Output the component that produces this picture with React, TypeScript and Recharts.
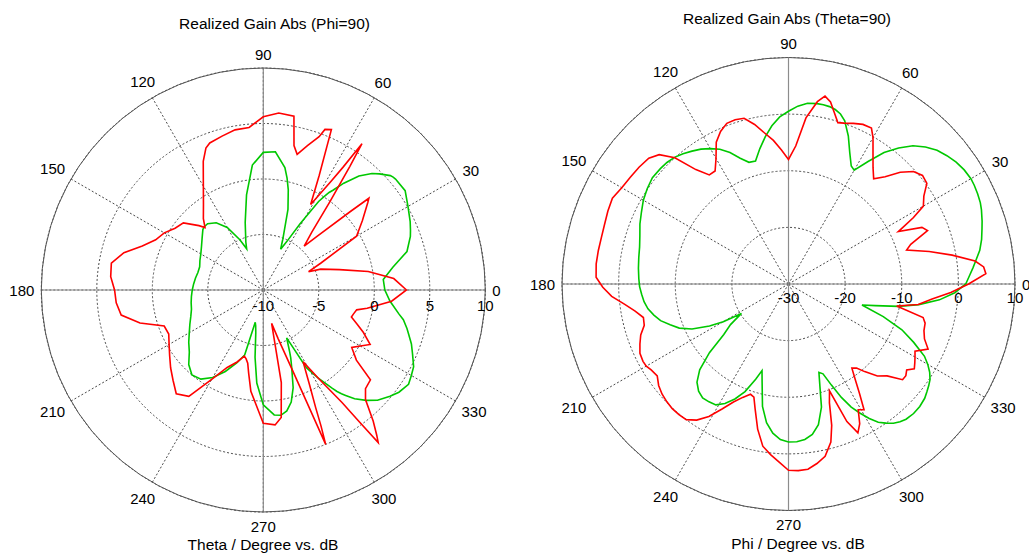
import React from 'react';
import { RadarChart, Radar, PolarGrid, PolarAngleAxis, PolarRadiusAxis } from 'recharts';

const FONT = '"Liberation Sans", Arial, sans-serif';

const angleTicks = [0, 30, 60, 90, 120, 150, 180, 210, 240, 270, 300, 330];
const leftRadiusTicks = [-10, -5, 0, 5, 10];
const rightRadiusTicks = [-30, -20, -10, 0, 10];

// Left chart: Realized Gain Abs (Phi=90), Theta in degrees vs dB
const leftAngles = [0, 5, 10, 15, 20, 22, 25, 30, 35, 40, 41, 42, 45, 47, 50, 53, 55, 56, 57, 58, 61, 64, 67, 69, 70, 73, 76, 78, 80, 85, 90, 95, 100, 105, 110, 112, 115, 120, 125, 130, 133, 135, 140, 145, 150, 155, 160, 165, 170, 175, 180, 185, 190, 195, 200, 205, 210, 215, 220, 225, 230, 235, 240, 245, 250, 254, 256, 258, 260, 263, 266, 270, 275, 278, 281, 284, 287, 290, 292, 293, 294, 296, 299, 302, 305, 306, 307, 308, 310, 313, 316, 320, 323, 327, 330, 333, 337, 340, 343, 345, 348, 350, 355];
const leftRed = [2.9, 1.8, -0.4, -2.9, -4.5, -5.6, -4.3, -0.3, 0.9, 2.3, 2.6, 0.6, -3.2, -4.6, -3.2, 0.0, 3.6, 5.9, 3.2, 1.6, -1.2, 1.5, 5.7, 5.5, 4.7, 3.6, 2.6, 3.3, 5.9, 6.0, 5.6, 4.7, 4.65, 4.35, 4.1, 3.8, 2.8, 0.8, -0.6, -1.6, -2.3, -1.8, -0.6, -0.3, 0.3, 0.7, 1.6, 3.0, 3.9, 3.8, 3.4, 3.3, 3.0, 1.5, -0.5, -0.6, -0.2, 0.3, 0.9, 1.5, 2.2, 1.7, -0.7, -2.3, -3.1, -3.8, -3.6, -3.25, -2.4, -0.8, 0.2, 2.0, 2.2, 1.6, -1.5, -6.9, -5.4, -2.3, 5.0, 3.3, 1.6, -0.5, -2.6, -0.6, 2.4, 4.5, 7.2, 6.6, 5.4, 3.5, 2.8, 2.6, 0.5, -0.5, 0.1, 0.8, -0.2, -1.0, -1.7, -1.6, -1.4, -0.5, 1.6];
const leftGreen = [0.95, 0.85, 1.85, 3.4, 4.1, 4.3, 4.6, 5.05, 5.6, 5.55, 5.5, 5.4, 4.8, 4.35, 3.4, 2.05, 1.0, 0.6, 0.0, -0.6, -3.2, -5.1, -6.0, -5.1, -4.6, -2.4, -0.7, 0.3, 1.2, 2.5, 2.4, 1.3, -1.3, -3.7, -5.4, -6.0, -5.0, -3.5, -2.6, -2.2, -2.2, -2.3, -2.8, -3.2, -3.5, -3.7, -3.9, -3.9, -3.8, -3.7, -3.6, -3.5, -3.4, -3.3, -3.05, -2.7, -2.3, -1.8, -1.3, -0.5, 0.0, -0.2, -0.9, -1.9, -3.0, -3.9, -7.0, -6.7, -6.1, -3.9, -1.6, 0.35, 1.3, 1.4, 1.1, 0.4, -0.8, -2.5, -3.4, -3.9, -4.4, -5.2, -2.0, -0.6, 0.8, 1.3, 1.7, 2.05, 2.8, 3.6, 4.3, 4.9, 5.3, 5.6, 5.4, 5.2, 4.6, 4.2, 3.7, 3.4, 2.9, 2.4, 1.45];

// Right chart: Realized Gain Abs (Theta=90), Phi in degrees vs dB
const rightAngles = [0, 3, 5, 7, 10, 13, 16, 18, 21, 23, 25.5, 28, 30, 33, 36, 39, 42, 45, 48, 51, 54, 57, 60, 62, 65, 68, 71, 73, 75, 77, 79, 81, 84, 87, 90, 93, 96, 99, 102, 105, 108, 111, 114, 117, 120, 123, 126, 129, 132, 135, 138, 142, 146, 150, 154, 158, 162, 166, 170, 174, 178, 181, 184, 187, 190, 193, 196, 199, 202, 205, 208, 210, 212, 215, 218, 221, 224, 227, 230, 233, 236, 239, 242, 245, 248, 251, 253, 255, 258, 261, 264, 267, 270, 273, 276, 279, 282, 285, 287, 289, 291, 293, 295, 297, 299, 301, 303, 305, 307, 309, 311, 314, 317, 320, 322, 324, 326, 328, 330, 332, 335, 338, 341, 344, 346, 348.5, 351, 354, 357];
const rightRed = [1.8, 4.9, 4.6, 3.2, -0.65, -4.5, -8.3, -7.3, -3.7, -4.4, -8.5, -5.0, -2.5, -1.5, 0.2, 0.45, -0.3, -2.1, -4.5, -6.1, -4.6, -2.6, -0.15, 1.2, 1.1, 0.6, 0.05, -0.2, 1.3, 3.0, 3.8, 2.6, -0.5, -5.6, -8.0, -6.3, -4.5, -3.0, -1.2, 0.3, 0.5, 0.4, -0.5, -1.9, -4.4, -6.2, -6.2, -4.0, 0.0, 2.3, 3.2, 3.5, 3.7, 4.0, 4.6, 4.4, 4.15, 4.05, 4.1, 4.15, 4.0, 2.8, 1.3, -0.8, -2.5, -3.7, -3.5, -2.4, -1.7, -1.05, -0.9, -1.0, -1.4, -1.7, -0.9, -0.4, -0.1, 0.1, 0.1, 0.0, -1.0, -2.7, -5.0, -7.0, -8.4, -9.4, -9.1, -7.2, -3.8, -1.0, 0.3, 1.5, 2.9, 3.0, 2.9, 2.1, 1.1, -1.1, -3.9, -7.8, -9.8, -3.6, -1.0, -2.3, -4.6, -4.1, -7.0, -9.5, -11.4, -10.9, -9.5, -7.4, -6.2, -3.7, -3.7, -4.2, -3.2, -3.7, -4.2, -4.7, -2.8, -4.1, -4.7, -4.9, -5.5, -10.5, -6.8, -4.5, -1.3];
const rightGreen = [1.3, 2.1, 2.7, 3.3, 4.3, 5.0, 5.55, 5.95, 6.5, 6.8, 7.0, 7.15, 7.2, 7.0, 6.6, 6.0, 5.3, 4.2, 2.85, 0.9, -1.3, -4.2, -6.8, -6.4, -4.4, -1.8, 0.5, 1.4, 1.9, 2.15, 2.25, 2.25, 2.1, 1.45, 0.5, -0.45, -1.9, -3.7, -5.6, -7.5, -7.4, -6.2, -4.6, -3.3, -2.4, -1.6, -1.0, -0.4, 0.1, 0.35, 0.45, 0.5, 0.1, -0.4, -1.1, -1.7, -2.4, -2.9, -3.15, -3.35, -3.55, -3.7, -4.0, -4.3, -4.8, -5.6, -6.5, -7.9, -9.2, -11.2, -14.2, -16.7, -20.2, -17.5, -15.5, -11.5, -8.2, -6.3, -5.3, -4.8, -4.9, -5.1, -6.1, -7.6, -9.5, -12.2, -14.0, -12.0, -7.9, -5.2, -3.5, -2.5, -2.1, -2.1, -2.4, -3.1, -4.6, -7.5, -11.0, -13.5, -13.0, -10.6, -7.9, -5.6, -3.9, -2.3, -0.9, 0.0, 0.8, 1.3, 1.65, 1.8, 1.7, 1.4, 1.0, 0.6, 0.15, -0.6, -1.6, -2.8, -5.6, -8.4, -12.3, -16.5, -14.2, -10.2, -6.7, -3.2, -0.6];

const leftData = leftAngles.map((a, i) => ({ angle: a, red: leftRed[i], green: leftGreen[i] }));
const rightData = rightAngles.map((a, i) => ({ angle: a, red: rightRed[i], green: rightGreen[i] }));

const AngleTick = (props: any) => {
  const { x, y, payload } = props;
  const deg = Number(payload.value);
  const a = (deg * Math.PI) / 180;
  const label = String(payload.value);
  const w = label.length * 8.3;
  const extra = Math.abs(Math.cos(a)) * (w / 2) + Math.abs(Math.sin(a)) * 7;
  const tx = x + Math.cos(a) * extra;
  const ty = y - Math.sin(a) * extra;
  return (
    <text x={tx} y={ty} textAnchor="middle" dominantBaseline="central" fontSize={15} fontFamily={FONT} fill="#000">
      {label}
    </text>
  );
};

const makeRadiusTick = (dy: number) => (props: any) => {
  const { x, y, payload } = props;
  return (
    <text x={x} y={y + dy} textAnchor="middle" dominantBaseline="central" fontSize={15} fontFamily={FONT} fill="#000">
      {String(payload.value)}
    </text>
  );
};

const Label = ({ text, cx, cy, size }: { text: string; cx: number; cy: number; size: number }) => (
  <div
    style={{
      position: 'absolute',
      left: cx - 200,
      top: cy - 9,
      width: 400,
      height: 18,
      lineHeight: '18px',
      textAlign: 'center',
      fontFamily: FONT,
      fontSize: size,
      color: '#000',
      whiteSpace: 'nowrap',
    }}
  >
    {text}
  </div>
);

function PolarPlot({ data, width, cx, cy, radius, domain, radiusTicks, tickDy }: any) {
  return (
    <RadarChart
      width={width}
      height={555}
      data={data}
      cx={cx}
      cy={cy}
      innerRadius={0}
      outerRadius={radius}
      startAngle={0}
      endAngle={360}
      margin={{ top: 0, right: 0, bottom: 0, left: 0 }}
    >
      <PolarGrid gridType="circle" stroke="#4a4a4a" strokeDasharray="2 2" strokeWidth={1} />
      <PolarGrid gridType="circle" polarAngles={[0, 90, 180, 270]} polarRadius={[]} stroke="#8c8c8c" strokeWidth={1.2} />
      <PolarAngleAxis
        dataKey="angle"
        type="number"
        domain={[0, 360]}
        ticks={angleTicks}
        tick={AngleTick}
        tickLine={false}
        tickSize={7}
        axisLine={{ stroke: '#555', strokeWidth: 1 }}
        axisLineType="circle"
        allowDataOverflow
      />
      <PolarRadiusAxis
        angle={0}
        type="number"
        domain={domain}
        ticks={radiusTicks}
        tickCount={5}
        tick={makeRadiusTick(tickDy)}
        axisLine={false}
        tickLine={false}
        allowDataOverflow
      />
      <Radar dataKey="green" stroke="#00c800" strokeWidth={1.6} fill="none" fillOpacity={0} dot={false} isAnimationActive={false} />
      <Radar dataKey="red" stroke="#ff0000" strokeWidth={1.6} fill="none" fillOpacity={0} dot={false} isAnimationActive={false} />
    </RadarChart>
  );
}

export default function App() {
  return (
    <div style={{ position: 'absolute', left: 0, top: 0, width: 1029, height: 555, background: '#fff', overflow: 'hidden' }}>
      <div style={{ position: 'absolute', left: 0, top: 0 }}>
        <PolarPlot data={leftData} width={520} cx={263.3} cy={290} radius={222} domain={[-10, 10]} radiusTicks={leftRadiusTicks} tickDy={15} />
      </div>
      <div style={{ position: 'absolute', left: 520, top: 0 }}>
        <PolarPlot data={rightData} width={509} cx={268.5} cy={284} radius={226.5} domain={[-30, 10]} radiusTicks={rightRadiusTicks} tickDy={13.5} />
      </div>
      <Label text="Realized Gain Abs (Phi=90)" cx={274.5} cy={23.5} size={15.5} />
      <Label text="Realized Gain Abs (Theta=90)" cx={787} cy={19} size={15.5} />
      <Label text="Theta / Degree vs. dB" cx={263} cy={544.5} size={15.5} />
      <Label text="Phi / Degree vs. dB" cx={798} cy={544} size={15.5} />
    </div>
  );
}
